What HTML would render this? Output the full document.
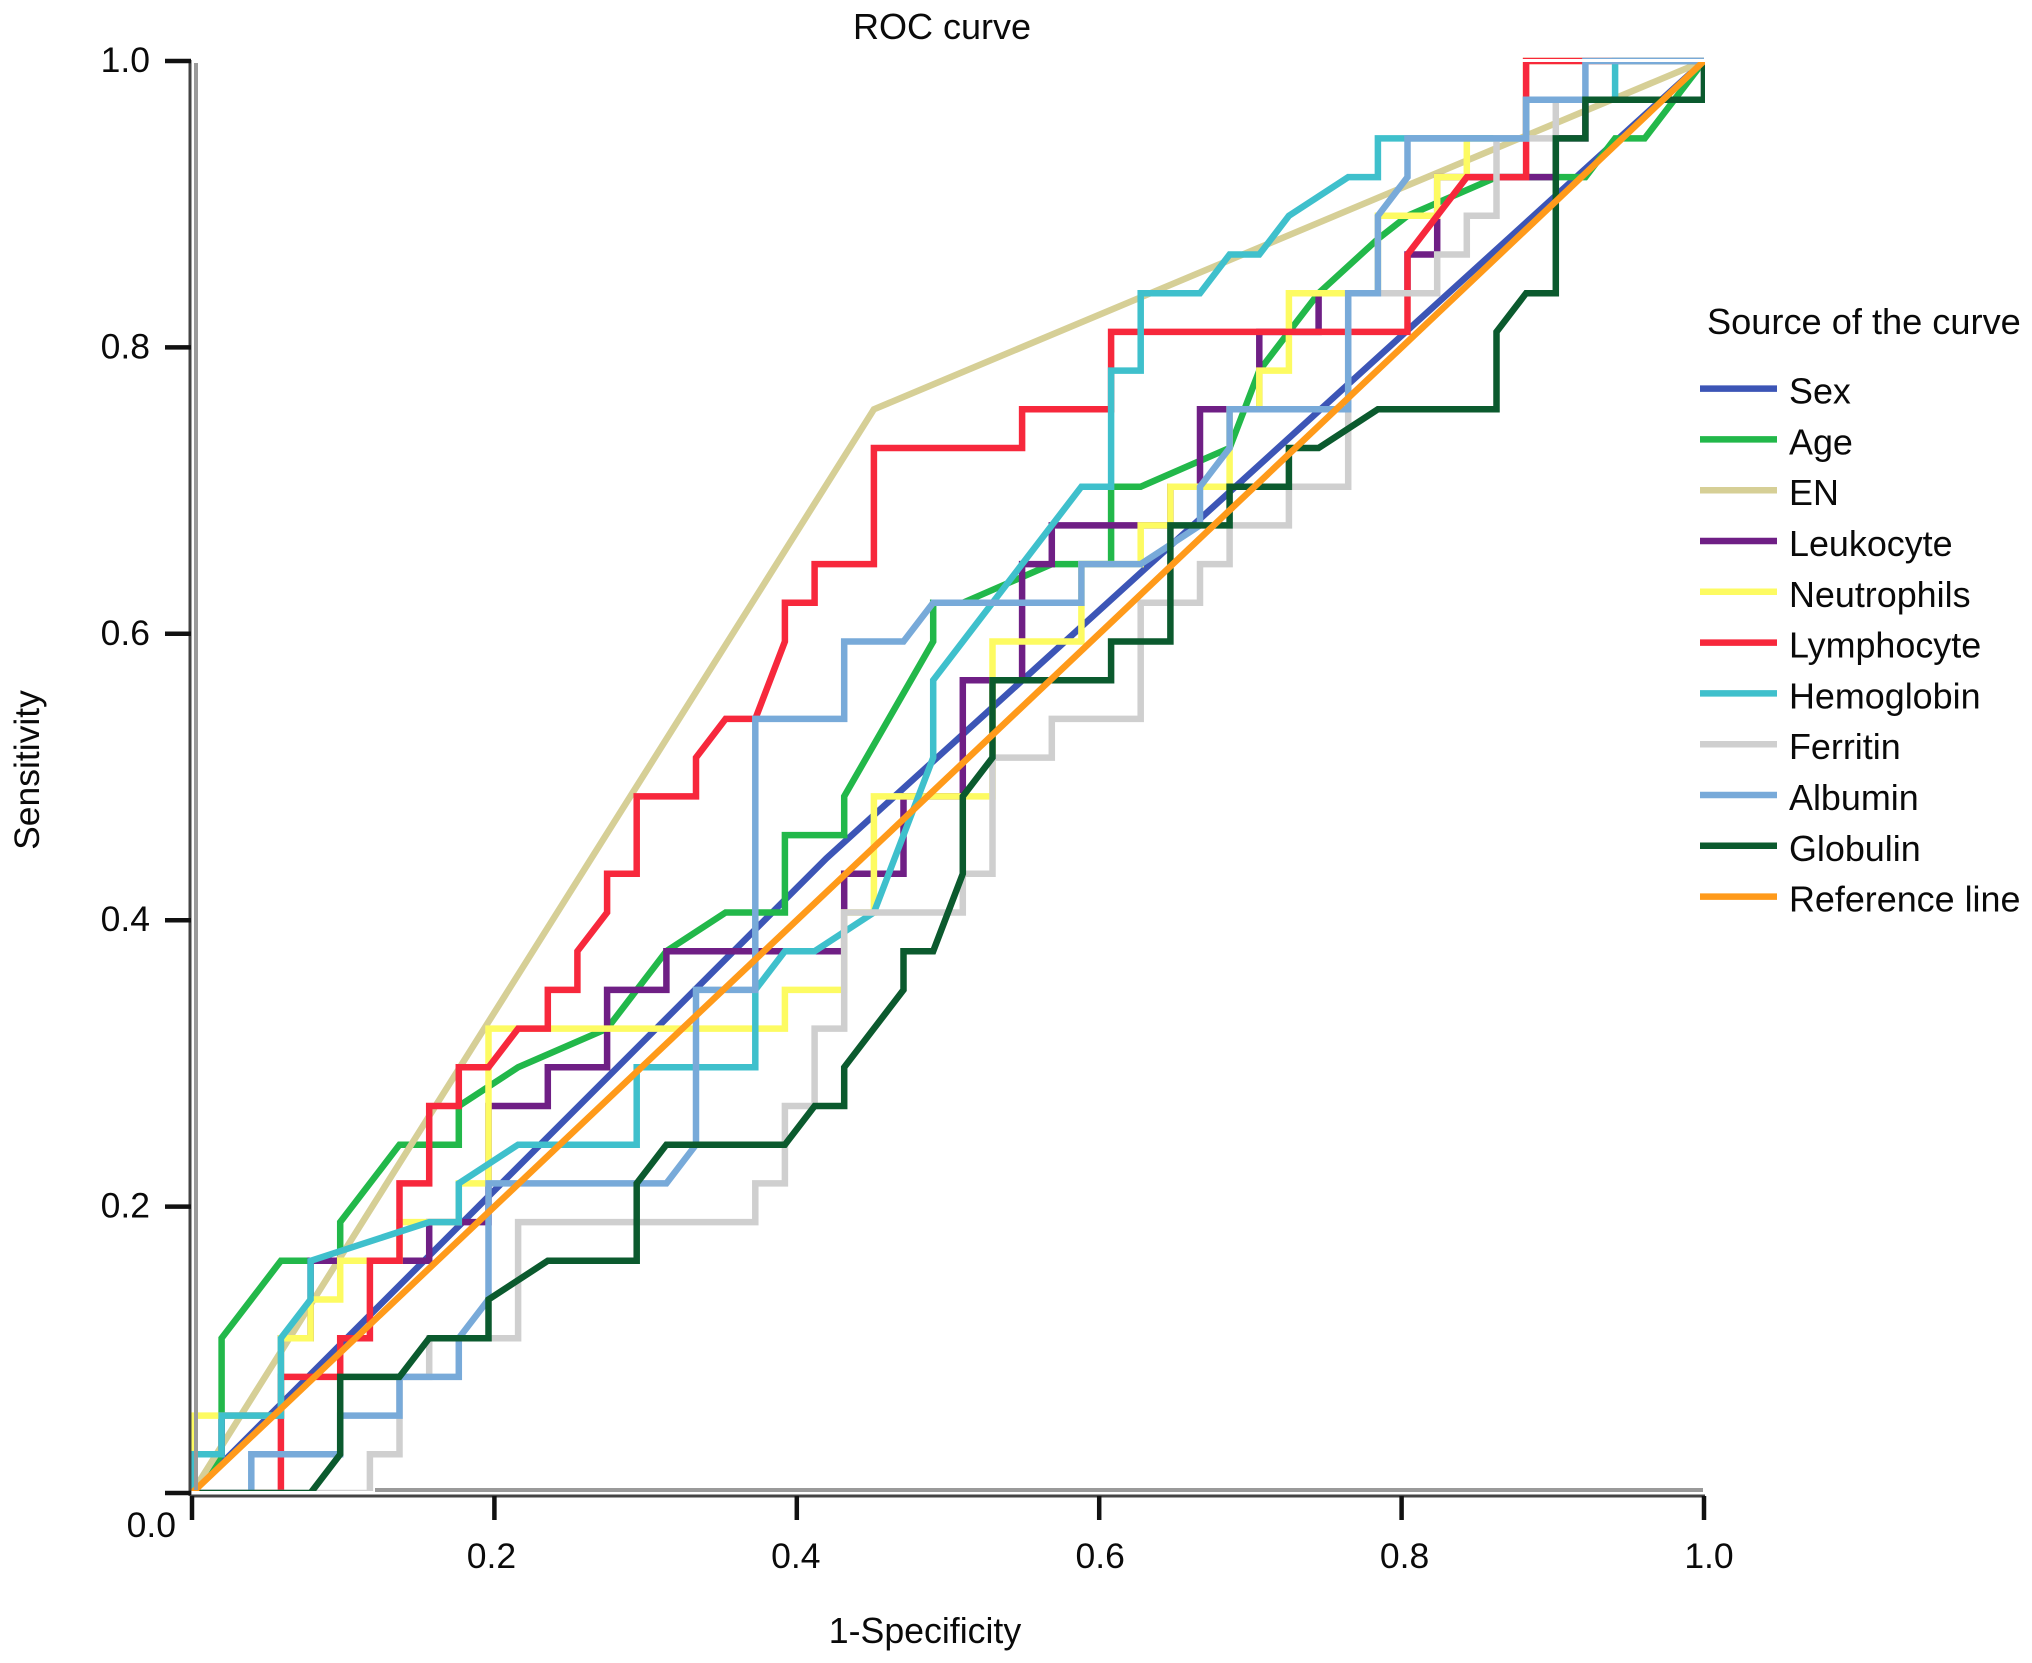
<!DOCTYPE html>
<html lang="en">
<head>
<meta charset="utf-8">
<title>ROC curve</title>
<style>
html,body{margin:0;padding:0;background:#fff;}
#chart{display:block;width:2032px;height:1663px;}
text{font-family:"Liberation Sans",Arial,sans-serif;fill:#0a0a0a;font-size:35.5px;}
</style>
</head>
<body>
<svg id="chart" xmlns="http://www.w3.org/2000/svg" width="2032" height="1663" viewBox="0 0 2032 1663">
  <rect x="0" y="0" width="2032" height="1663" fill="#ffffff"/>
  <defs>
    <clipPath id="plot-clip"><rect x="189" y="57" width="1521" height="1439"/></clipPath>
  </defs>
  <text x="942" y="39" text-anchor="middle" style="font-size:36px">ROC curve</text>
  <text x="925" y="1643" text-anchor="middle" style="font-size:35.7px">1-Specificity</text>
  <text x="39" y="770" text-anchor="middle" transform="rotate(-90 39 770)">Sensitivity</text>
  <g id="series-layer" clip-path="url(#plot-clip)"></g>
  <rect x="189" y="59" width="1521" height="3" fill="#ffffff"/>
  <rect x="189" y="1491" width="1521" height="4" fill="#ffffff"/>
  <rect x="1705" y="62" width="3" height="1434" fill="#ffffff"/>
  <line x1="196" y1="63" x2="196" y2="1490" stroke="#9a9a9a" stroke-width="4"/>
  <line x1="375" y1="1490" x2="1703" y2="1490" stroke="#9a9a9a" stroke-width="4"/>
  <line x1="190" y1="60" x2="190" y2="1496" stroke="#444444" stroke-width="3"/>
  <line x1="190" y1="1496" x2="1705" y2="1496" stroke="#444444" stroke-width="3"/>
  <g id="axis-layer"></g>
  <g id="legend-layer">
    <text x="1707" y="334" style="font-size:36.2px">Source of the curve</text>
  </g>
</svg>
<script>
// Axis tick values
const xTicks = [0.2, 0.4, 0.6, 0.8, 1.0];
const yTicks = [0.0, 0.2, 0.4, 0.6, 0.8, 1.0];

// Curve points are read as [false-positive count, true-positive count]
const negativeCases = 51;
const positiveCases = 37;

const sexPoints = [[0,0],[21.4,16.4],[51,37]];
const agePoints = [[0,0],[1,1],[1,4],[3,6],[5,6],[5,7],[7,9],[9,9],[9,10],[11,11],[14,12],[16,14],[18,15],[20,15],[20,17],[22,17],[22,18],[25,22],[25,23],[26,23],[29,24],[31,24],[31,26],[32,26],[35,27],[36,29],[37,30],[38,31],[40,32.4],[41,33],[44,34],[47,34],[48,35],[49,35],[51,37]];
const enPoints = [[0,0],[23,28],[51,37]];
const leukocytePoints = [[0,0],[0,1],[1,1],[1,2],[3,2],[3,4],[4,4],[4,6],[8,6],[8,7],[10,7],[10,10],[12,10],[12,11],[14,11],[14,13],[16,13],[16,14],[22,14],[22,16],[24,16],[24,18],[26,18],[26,21],[28,21],[28,24],[29,24],[29,25],[33,25],[33,26],[34,26],[34,28],[36,28],[36,30],[38,30],[38,31],[41,31],[41,32],[42,32],[42,34],[46,34],[46,35],[47,35],[47,36],[51,36],[51,37]];
const neutrophilPoints = [[0,0],[0,2],[3,2],[3,4],[4,4],[4,5],[5,5],[5,6],[7,6],[7,7],[9,7],[9,8],[10,8],[10,12],[20,12],[20,13],[22,13],[22,15],[23,15],[23,18],[27,18],[27,22],[30,22],[30,24],[32,24],[32,25],[33,25],[33,26],[35,26],[35,28],[36,28],[36,29],[37,29],[37,31],[40,31],[40,33],[42,33],[42,34],[43,34],[43,35],[45,35],[45,37],[51,37]];
const lymphocytePoints = [[0,0],[3,0],[3,3],[5,3],[5,4],[6,4],[6,6],[7,6],[7,8],[8,8],[8,10],[9,10],[9,11],[10,11],[11,12],[12,12],[12,13],[13,13],[13,14],[14,15],[14,16],[15,16],[15,18],[17,18],[17,19],[18,20],[19,20],[20,22],[20,23],[21,23],[21,24],[23,24],[23,27],[28,27],[28,28],[31,28],[31,30],[41,30],[41,32],[43,34],[45,34],[45,37],[51,37]];
const hemoglobinPoints = [[0,0],[0,1],[1,1],[1,2],[3,2],[3,4],[4,5],[4,6],[8,7],[9,7],[9,8],[11,9],[15,9],[15,11],[19,11],[19,13],[20,14],[21,14],[23,15],[25,19],[25,21],[30,26],[31,26],[31,29],[32,29],[32,31],[34,31],[35,32],[36,32],[37,33],[39,34],[40,34],[40,35],[45,35],[45,36],[48,36],[48,37],[51,37]];
const ferritinPoints = [[0,0],[6,0],[6,1],[7,1],[7,3],[8,3],[8,4],[11,4],[11,7],[19,7],[19,8],[20,8],[20,10],[21,10],[21,12],[22,12],[22,15],[26,15],[26,16],[27,16],[27,19],[29,19],[29,20],[32,20],[32,23],[34,23],[34,24],[35,24],[35,25],[37,25],[37,26],[39,26],[39,31],[42,31],[42,32],[43,32],[43,33],[44,33],[44,35],[46,35],[46,36],[51,36],[51,37]];
const albuminPoints = [[0,0],[2,0],[2,1],[5,1],[5,2],[7,2],[7,3],[9,3],[9,4],[10,5],[10,8],[16,8],[17,9],[17,13],[19,13],[19,20],[22,20],[22,22],[24,22],[25,23],[30,23],[30,24],[32,24],[34,25],[34,26],[35,27],[35,28],[39,28],[39,31],[40,31],[40,33],[41,34],[41,35],[45,35],[45,36],[47,36],[47,37],[51,37]];
const globulinPoints = [[0,0],[4,0],[5,1],[5,3],[7,3],[8,4],[10,4],[10,5],[12,6],[15,6],[15,8],[16,9],[20,9],[21,10],[22,10],[22,11],[24,13],[24,14],[25,14],[26,16],[26,18],[27,19],[27,21],[31,21],[31,22],[33,22],[33,25],[35,25],[35,26],[37,26],[37,27],[38,27],[40,28],[44,28],[44,30],[45,31],[46,31],[46,35],[47,35],[47,36],[51,36],[51,37]];
const referencePoints = [[0,0],[51,37]];

const seriesLabels = ['Sex','Age','EN','Leukocyte','Neutrophils','Lymphocyte','Hemoglobin','Ferritin','Albumin','Globulin','Reference line'];
const seriesColors = ['#3c55b6','#22b84a','#d6cf96','#6f1f85','#fdfb62','#f7283c','#3fc0cc','#cfcfcf','#78aad9','#0b5a2e','#ff9a1a'];
const seriesPoints = [sexPoints,agePoints,enPoints,leukocytePoints,neutrophilPoints,lymphocytePoints,hemoglobinPoints,ferritinPoints,albuminPoints,globulinPoints,referencePoints];

const NS = 'http://www.w3.org/2000/svg';
const xAxis = function (v) { return 192 + v * 1512; };
const yAxis = function (v) { return 1493 - v * 1432; };
const xCount = function (n) { return xAxis(n / negativeCases); };
const yCount = function (n) { return yAxis(n / positiveCases); };
const slug = function (s) { return s.toLowerCase().replace(/\s+/g, '-'); };

const seriesLayer = document.getElementById('series-layer');
const axisLayer = document.getElementById('axis-layer');
const legendLayer = document.getElementById('legend-layer');

seriesPoints.forEach(function (pts, idx) {
  const path = document.createElementNS(NS, 'path');
  
  
  path.setAttribute('d', pts.map(function (p, i) {
    return (i ? 'L' : 'M') + xCount(p[0]).toFixed(1) + ' ' + yCount(p[1]).toFixed(1);
  }).join(' '));
  path.setAttribute('fill', 'none');
  path.setAttribute('stroke', seriesColors[idx]);
  path.setAttribute('stroke-width', '6.5');
  path.setAttribute('stroke-linejoin', 'miter');
  seriesLayer.appendChild(path);
});

xTicks.forEach(function (v) {
  const tick = document.createElementNS(NS, 'line');
  
  
  tick.setAttribute('x1', xAxis(v));
  tick.setAttribute('x2', xAxis(v));
  tick.setAttribute('y1', 1496);
  tick.setAttribute('y2', 1520);
  tick.setAttribute('stroke', '#111');
  tick.setAttribute('stroke-width', '4.5');
  axisLayer.appendChild(tick);
  const label = document.createElementNS(NS, 'text');
  
  
  label.setAttribute('x', xAxis(v) - 3 + (v - 0.2) * 10);
  label.setAttribute('y', 1568);
  label.setAttribute('text-anchor', 'middle');
  label.textContent = v.toFixed(1);
  axisLayer.appendChild(label);
});

const zeroXTick = document.createElementNS(NS, 'line');


zeroXTick.setAttribute('x1', xAxis(0));
zeroXTick.setAttribute('x2', xAxis(0));
zeroXTick.setAttribute('y1', 1496);
zeroXTick.setAttribute('y2', 1520);
zeroXTick.setAttribute('stroke', '#111');
zeroXTick.setAttribute('stroke-width', '4.5');
axisLayer.appendChild(zeroXTick);

yTicks.forEach(function (v) {
  const tick = document.createElementNS(NS, 'line');
  
  
  tick.setAttribute('x1', 165);
  tick.setAttribute('x2', 191);
  tick.setAttribute('y1', yAxis(v));
  tick.setAttribute('y2', yAxis(v));
  tick.setAttribute('stroke', '#111');
  tick.setAttribute('stroke-width', '4.5');
  axisLayer.appendChild(tick);
  const label = document.createElementNS(NS, 'text');
  
  
  label.setAttribute('x', v === 0 ? 176 : 150);
  label.setAttribute('y', v === 0 ? 1537 : yAxis(v) + 11);
  label.setAttribute('text-anchor', 'end');
  label.textContent = v.toFixed(1);
  axisLayer.appendChild(label);
});

seriesLabels.forEach(function (name, idx) {
  const cy = 388.6 + idx * 50.8;
  const key = document.createElementNS(NS, 'line');
  
  
  key.setAttribute('x1', 1700);
  key.setAttribute('x2', 1777);
  key.setAttribute('y1', cy);
  key.setAttribute('y2', cy);
  key.setAttribute('stroke', seriesColors[idx]);
  key.setAttribute('stroke-width', '6.5');
  legendLayer.appendChild(key);
  const label = document.createElementNS(NS, 'text');
  
  
  label.setAttribute('x', 1789);
  label.setAttribute('y', cy + 15);
  label.setAttribute('style', 'font-size:35.9px');
  label.textContent = name;
  legendLayer.appendChild(label);
});
</script>
</body>
</html>
